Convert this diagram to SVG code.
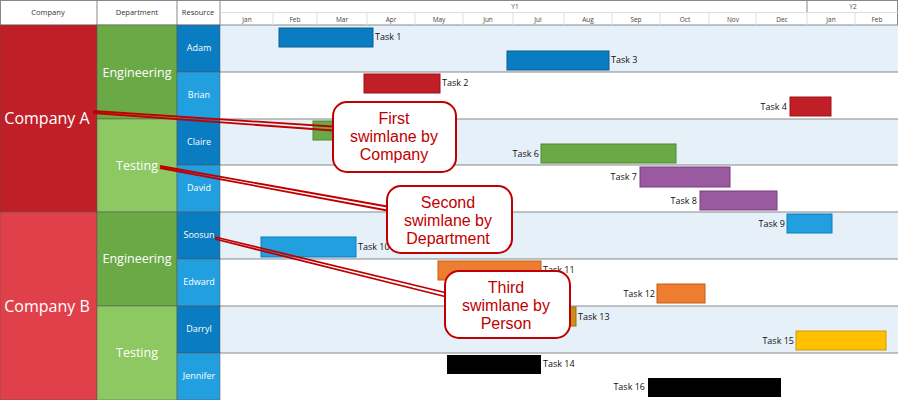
<svg xmlns="http://www.w3.org/2000/svg" width="900" height="400" viewBox="0 0 900 400">
<style>
.h{font-family:"Open Sans","Liberation Sans",sans-serif;font-size:7.5px;fill:#333;text-anchor:middle}
.m{font-family:"Open Sans","Liberation Sans",sans-serif;font-size:6.5px;fill:#444;text-anchor:middle}
.w{font-family:"Open Sans","Liberation Sans",sans-serif;fill:#fff;text-anchor:middle}
.t{font-family:"Open Sans","Liberation Sans",sans-serif;font-size:9px;fill:#111}
.c{font-family:"Liberation Sans",sans-serif;font-size:16px;fill:#c00000;text-anchor:middle}
.box{fill:#fff;stroke:#c00000;stroke-width:2}
.ln{stroke:#c00000;stroke-width:1.8;fill:none}
.grid{stroke:#888;stroke-width:1}
.tick{stroke:#ddd;stroke-width:1}
</style>
<rect width="900" height="400" fill="#fff"/>
<g id="rows">
<rect x="220" y="25" width="678" height="47" fill="#e6f0f8"/>
<rect x="220" y="119" width="678" height="46" fill="#e6f0f8"/>
<rect x="220" y="212" width="678" height="47" fill="#e6f0f8"/>
<rect x="220" y="306" width="678" height="47" fill="#e6f0f8"/>
<g class="grid">
<line x1="220" y1="72" x2="898" y2="72"/><line x1="220" y1="119" x2="898" y2="119"/>
<line x1="220" y1="165" x2="898" y2="165"/><line x1="220" y1="212" x2="898" y2="212"/>
<line x1="220" y1="259" x2="898" y2="259"/><line x1="220" y1="306" x2="898" y2="306"/>
<line x1="220" y1="353" x2="898" y2="353"/>
</g>
</g>
<g id="header">
<rect x="0.5" y="0.5" width="897" height="24.5" fill="#fff" stroke="#888"/>
<line class="grid" x1="97" y1="0" x2="97" y2="25"/><line class="grid" x1="177" y1="0" x2="177" y2="25"/><line class="grid" x1="220" y1="0" x2="220" y2="25"/>
<line class="tick" x1="220" y1="12.5" x2="898" y2="12.5"/>
<line class="grid" x1="807" y1="0" x2="807" y2="12"/>
<g class="tick">
<line x1="273" y1="13" x2="273" y2="25"/><line x1="317" y1="13" x2="317" y2="25"/><line x1="367" y1="13" x2="367" y2="25"/><line x1="415" y1="13" x2="415" y2="25"/><line x1="463" y1="13" x2="463" y2="25"/><line x1="513" y1="13" x2="513" y2="25"/><line x1="564" y1="13" x2="564" y2="25"/><line x1="612" y1="13" x2="612" y2="25"/><line x1="660" y1="13" x2="660" y2="25"/><line x1="709" y1="13" x2="709" y2="25"/><line x1="756" y1="13" x2="756" y2="25"/><line x1="807" y1="13" x2="807" y2="25"/><line x1="855" y1="13" x2="855" y2="25"/>
</g>
<text class="h" x="48" y="15">Company</text><text class="h" x="137" y="15">Department</text><text class="h" x="198" y="15">Resource</text>
<text class="m" x="515" y="9">Y1</text><text class="m" x="853" y="9">Y2</text>
<text class="m" x="247" y="22">Jan</text><text class="m" x="295" y="22">Feb</text><text class="m" x="342" y="22">Mar</text><text class="m" x="391" y="22">Apr</text><text class="m" x="439" y="22">May</text><text class="m" x="488" y="22">Jun</text><text class="m" x="538" y="22">Jul</text><text class="m" x="588" y="22">Aug</text><text class="m" x="636" y="22">Sep</text><text class="m" x="685" y="22">Oct</text><text class="m" x="733" y="22">Nov</text><text class="m" x="782" y="22">Dec</text><text class="m" x="831" y="22">Jan</text><text class="m" x="877" y="22">Feb</text>
</g>
<g id="companyA"><rect x="0" y="25" width="97" height="187" fill="#c11f27" stroke="#555" stroke-width="0.5"/><text class="w" x="47" y="124" font-size="16">Company A</text></g>
<g id="companyB"><rect x="0" y="212" width="97" height="188" fill="#e0404a" stroke="#555" stroke-width="0.5"/><text class="w" x="47" y="312" font-size="16">Company B</text></g>
<g id="engA"><rect x="97" y="25" width="80" height="94" fill="#6aa946" stroke="#555" stroke-width="0.5"/><text class="w" x="137" y="77" font-size="12.5">Engineering</text></g>
<g id="testA"><rect x="97" y="119" width="80" height="93" fill="#8dc863" stroke="#555" stroke-width="0.5"/><text class="w" x="137" y="170" font-size="12.5">Testing</text></g>
<g id="engB"><rect x="97" y="212" width="80" height="94" fill="#6aa946" stroke="#555" stroke-width="0.5"/><text class="w" x="137" y="263" font-size="12.5">Engineering</text></g>
<g id="testB"><rect x="97" y="306" width="80" height="94" fill="#8dc863" stroke="#555" stroke-width="0.5"/><text class="w" x="137" y="357" font-size="12.5">Testing</text></g>
<g id="resources">
<g id="adam"><rect x="177" y="25" width="43" height="47" fill="#0a7cc1" stroke="#555" stroke-width="0.5"/><text class="w" x="199" y="51" font-size="9">Adam</text></g>
<g id="brian"><rect x="177" y="72" width="43" height="47" fill="#229fdf" stroke="#555" stroke-width="0.5"/><text class="w" x="199" y="98" font-size="9">Brian</text></g>
<g id="claire"><rect x="177" y="119" width="43" height="46" fill="#0a7cc1" stroke="#555" stroke-width="0.5"/><text class="w" x="199" y="145" font-size="9">Claire</text></g>
<g id="david"><rect x="177" y="165" width="43" height="47" fill="#229fdf" stroke="#555" stroke-width="0.5"/><text class="w" x="199" y="191" font-size="9">David</text></g>
<g id="soosun"><rect x="177" y="212" width="43" height="47" fill="#0a7cc1" stroke="#555" stroke-width="0.5"/><text class="w" x="199" y="238" font-size="9">Soosun</text></g>
<g id="edward"><rect x="177" y="259" width="43" height="47" fill="#229fdf" stroke="#555" stroke-width="0.5"/><text class="w" x="199" y="285" font-size="9">Edward</text></g>
<g id="darryl"><rect x="177" y="306" width="43" height="47" fill="#0a7cc1" stroke="#555" stroke-width="0.5"/><text class="w" x="199" y="332" font-size="9">Darryl</text></g>
<g id="jennifer"><rect x="177" y="353" width="43" height="47" fill="#229fdf" stroke="#555" stroke-width="0.5"/><text class="w" x="199" y="379" font-size="9">Jennifer</text></g>
</g>
<g id="tasks">
<rect x="279" y="28" width="94" height="19" fill="#0a7cc1" stroke="#0a5c99"/><text class="t" x="375" y="40">Task 1</text>
<rect x="507" y="51" width="102" height="19" fill="#0a7cc1" stroke="#0a5c99"/><text class="t" x="611" y="63">Task 3</text>
<rect x="364" y="74" width="76" height="19" fill="#c11f27" stroke="#a01018"/><text class="t" x="442" y="86">Task 2</text>
<rect x="790" y="97" width="41" height="19" fill="#c11f27" stroke="#a01018"/><text class="t" x="787" y="110" text-anchor="end">Task 4</text>
<rect x="313" y="121" width="35" height="19" fill="#6aa946" stroke="#4a8a2e"/>
<rect x="541" y="144" width="135" height="19" fill="#6aa946" stroke="#4a8a2e"/><text class="t" x="539" y="157" text-anchor="end">Task 6</text>
<rect x="640" y="167" width="90" height="20" fill="#9a5aa0" stroke="#7a3a80"/><text class="t" x="637" y="180" text-anchor="end">Task 7</text>
<rect x="700" y="191" width="77" height="19" fill="#9a5aa0" stroke="#7a3a80"/><text class="t" x="697" y="204" text-anchor="end">Task 8</text>
<rect x="787" y="214" width="45" height="19" fill="#229fdf" stroke="#0a7cc1"/><text class="t" x="785" y="227" text-anchor="end">Task 9</text>
<rect x="261" y="237" width="95" height="20" fill="#229fdf" stroke="#0a7cc1"/><text class="t" x="358" y="250">Task 10</text>
<rect x="438" y="261" width="103" height="19" fill="#ed7d31" stroke="#c55d11"/><text class="t" x="543" y="273">Task 11</text>
<rect x="657" y="284" width="48" height="19" fill="#ed7d31" stroke="#c55d11"/><text class="t" x="655" y="297" text-anchor="end">Task 12</text>
<rect x="560" y="307" width="16" height="19" fill="#c8901a" stroke="#a07010"/><text class="t" x="578" y="320">Task 13</text>
<rect x="796" y="331" width="90" height="19" fill="#ffc000" stroke="#d09a00"/><text class="t" x="794" y="344" text-anchor="end">Task 15</text>
<rect x="447" y="355" width="94" height="19" fill="#000"/><text class="t" x="543" y="367">Task 14</text>
<rect x="648" y="378" width="133" height="19" fill="#000"/><text class="t" x="645" y="390" text-anchor="end">Task 16</text>
</g>
<g id="connectors">
<path class="ln" d="M93 111 L340 127 M93 113 L340 131"/>
<path class="ln" d="M160 166 L390 207 M160 168 L390 211"/>
<path class="ln" d="M215 237 L447 293 M215 239 L447 297"/>
</g>
<g id="callout1"><rect class="box" x="333" y="102" width="123" height="70" rx="14"/><text class="c"><tspan x="394" y="124">First</tspan><tspan x="394" y="142">swimlane by</tspan><tspan x="394" y="160">Company</tspan></text></g>
<g id="callout2"><rect class="box" x="387" y="186" width="125" height="67" rx="14"/><text class="c"><tspan x="448" y="208">Second</tspan><tspan x="448" y="226">swimlane by</tspan><tspan x="448" y="244">Department</tspan></text></g>
<g id="callout3"><rect class="box" x="445" y="271" width="125" height="67" rx="14"/><text class="c"><tspan x="506" y="293">Third</tspan><tspan x="506" y="311">swimlane by</tspan><tspan x="506" y="329">Person</tspan></text></g>
</svg>
